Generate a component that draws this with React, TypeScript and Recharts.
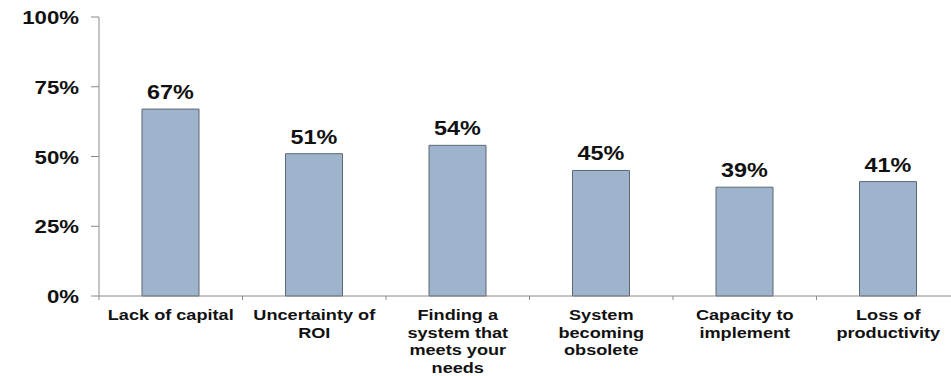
import React from 'react';
import { BarChart, Bar, XAxis, YAxis, LabelList } from 'recharts';

const CATEGORIES = [
  'Lack of capital',
  'Uncertainty of\nROI',
  'Finding a\nsystem that\nmeets your\nneeds',
  'System\nbecoming\nobsolete',
  'Capacity to\nimplement',
  'Loss of\nproductivity',
];
const VALUES = [67, 51, 54, 45, 39, 41];
const Y_TICKS = [0, 25, 50, 75, 100];

const FONT = '"Liberation Sans", Arial, sans-serif';
const STRETCH = 1.17;
const AXIS_GRAY = '#8a8a8a';

const data = CATEGORIES.map((name, i) => ({ name, value: VALUES[i] }));

const CategoryTick = (props: any) => {
  const { x, y, payload } = props;
  const half = payload.offset || 0;
  const lines = String(payload.value).split('\n');
  const isLast = payload.index === CATEGORIES.length - 1;
  return (
    <g>
      <line x1={x - half} x2={x - half} y1={y - 8} y2={y - 4} stroke={AXIS_GRAY} />
      {isLast && <line x1={x + half} x2={x + half} y1={y - 8} y2={y - 4} stroke={AXIS_GRAY} />}
      {lines.map((ln, i) => (
        <text
          key={i}
          x={0}
          y={0}
          transform={`translate(${x},${y + 16 + i * 17.5}) scale(${STRETCH},1)`}
          textAnchor="middle"
          fontFamily={FONT}
          fontWeight="bold"
          fontSize={15.5}
          fill="#111"
        >
          {ln}
        </text>
      ))}
    </g>
  );
};

const PercentTick = (props: any) => {
  const { x, y, payload } = props;
  return (
    <text
      x={0}
      y={0}
      transform={`translate(${x},${y + 7}) scale(${STRETCH},1)`}
      textAnchor="end"
      fontFamily={FONT}
      fontWeight="bold"
      fontSize={19}
      fill="#111"
    >
      {payload.value}%
    </text>
  );
};

const ValueLabel = (props: any) => {
  const { x, y, width, value } = props;
  return (
    <text
      x={0}
      y={0}
      transform={`translate(${x + width / 2},${y - 10}) scale(${STRETCH},1)`}
      textAnchor="middle"
      fontFamily={FONT}
      fontWeight="bold"
      fontSize={20}
      fill="#111"
    >
      {value}%
    </text>
  );
};

export default function App() {
  return (
    <div style={{ position: 'absolute', left: 0, top: 0, width: 951, height: 376, overflow: 'hidden', background: '#fff' }}>
      <BarChart
        width={970}
        height={376}
        data={data}
        margin={{ top: 17, right: 10, bottom: 0, left: 0 }}
      >
        <XAxis
          dataKey="name"
          interval={0}
          tick={<CategoryTick />}
          tickLine={false}
          axisLine={{ stroke: AXIS_GRAY }}
          height={80}
        />
        <YAxis
          domain={[0, 100]}
          ticks={Y_TICKS}
          interval={0}
          tick={<PercentTick />}
          tickLine={{ stroke: AXIS_GRAY }}
          tickSize={8}
          tickMargin={12}
          axisLine={{ stroke: AXIS_GRAY }}
          width={99}
        />
        <Bar dataKey="value" barSize={57} fill="#9db4cc" stroke="#5c6773" strokeWidth={1} isAnimationActive={false}>
          <LabelList dataKey="value" content={<ValueLabel />} />
        </Bar>
      </BarChart>
    </div>
  );
}
